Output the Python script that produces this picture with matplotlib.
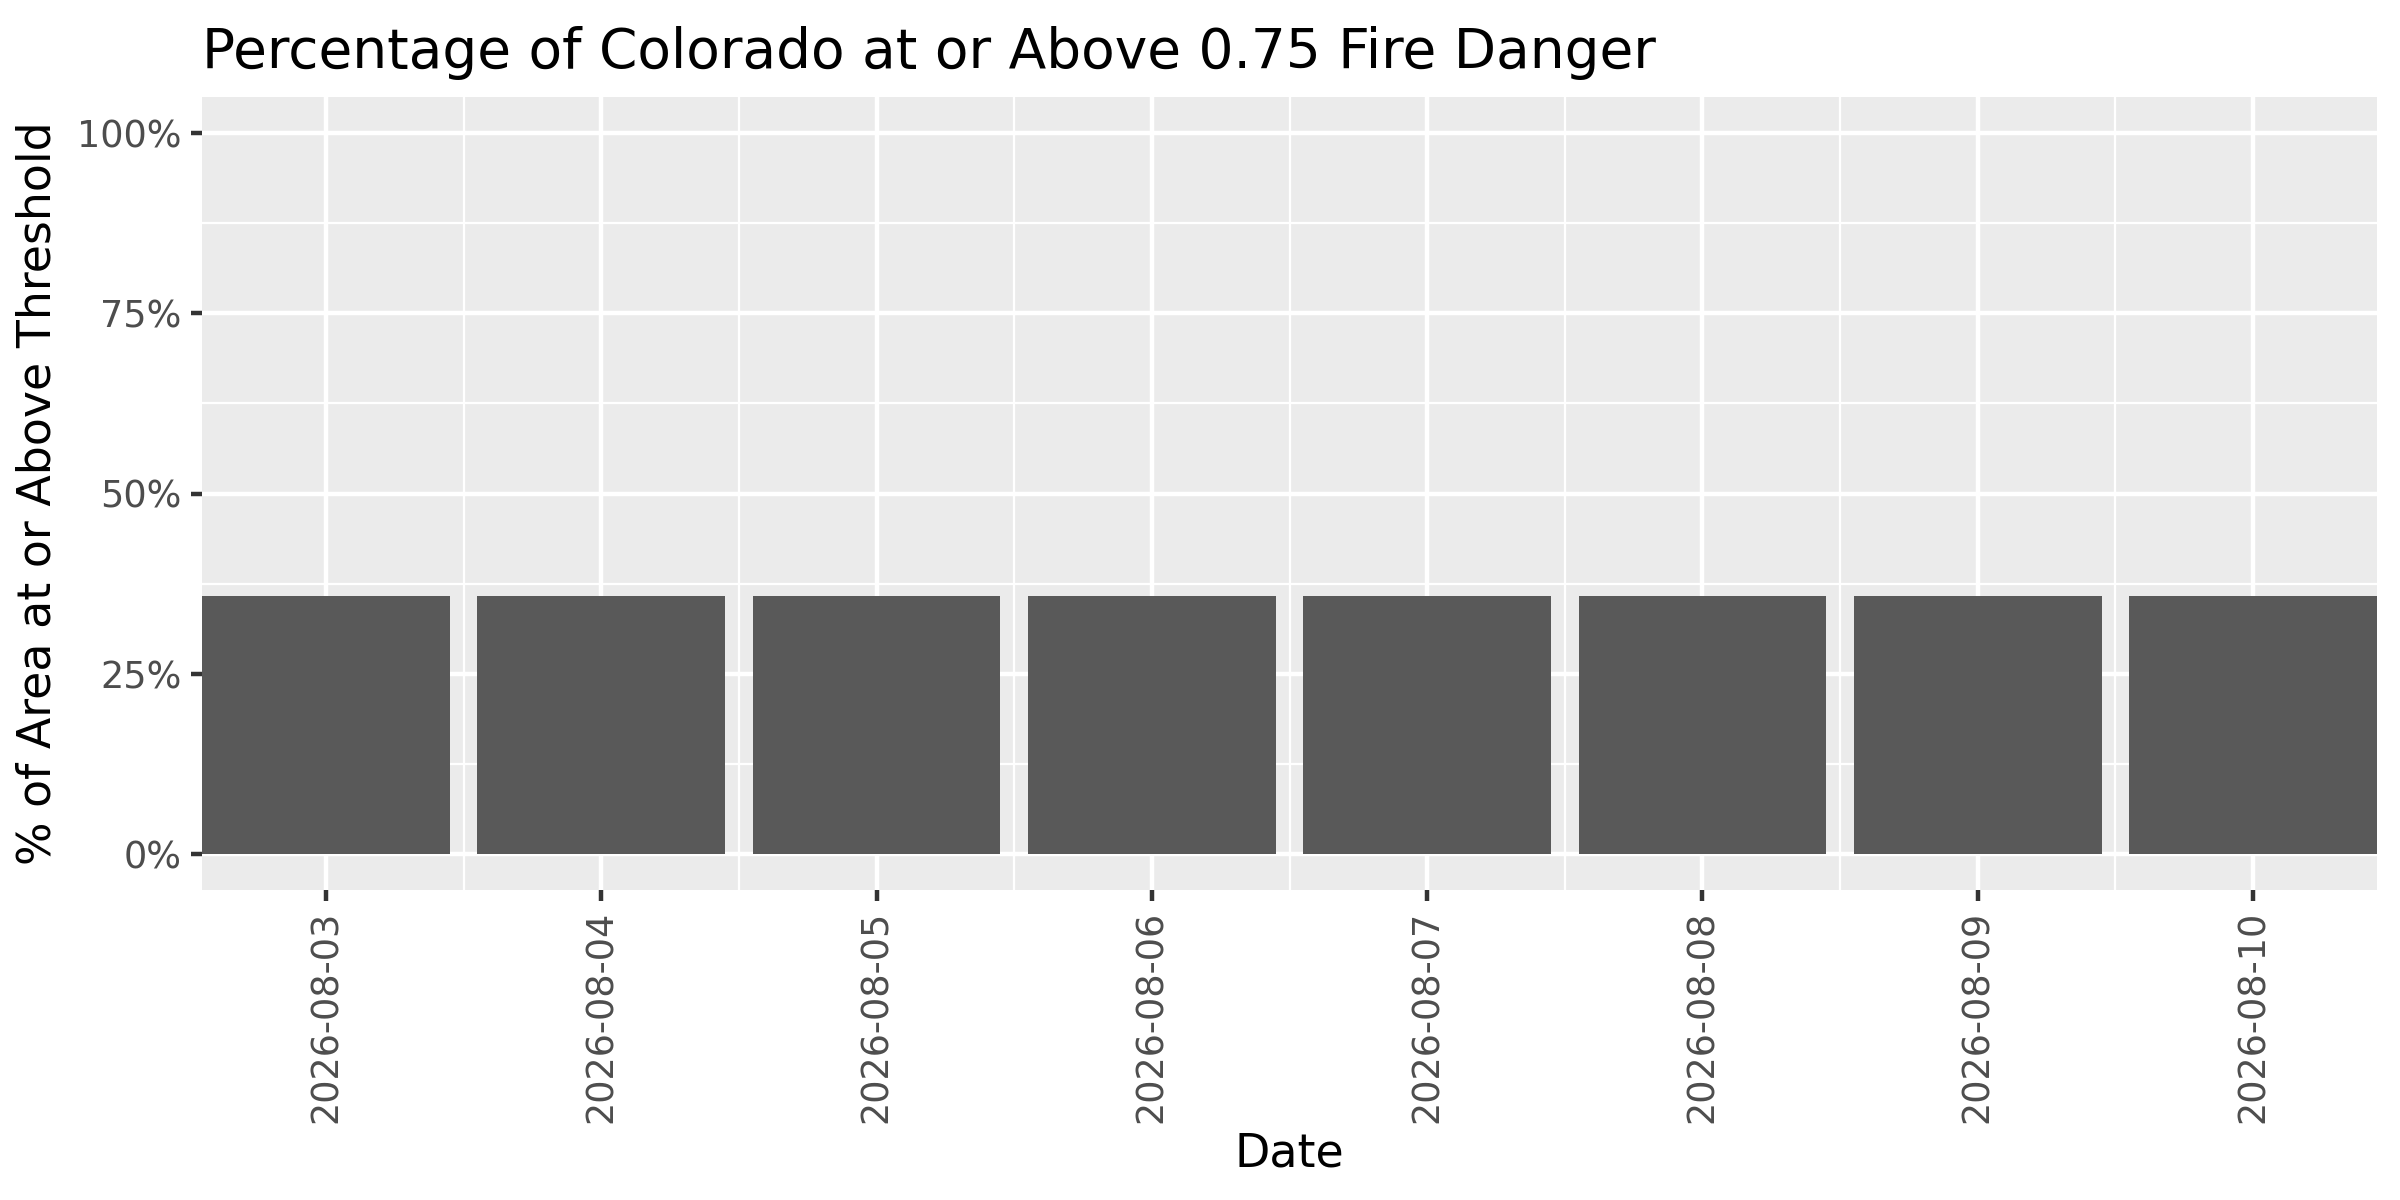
import matplotlib
matplotlib.use("Agg")
from matplotlib import pyplot as plt
from matplotlib.ticker import FixedLocator, PercentFormatter
import numpy as np

dates = ["2026-08-03", "2026-08-04", "2026-08-05", "2026-08-06",
         "2026-08-07", "2026-08-08", "2026-08-09", "2026-08-10"]
pct_area = [0.358, 0.358, 0.358, 0.358, 0.358, 0.358, 0.358, 0.358]
y_breaks = [0, 0.25, 0.5, 0.75, 1.0]

plt.rcParams["font.family"] = ["DejaVu Sans"]

fig = plt.figure(figsize=(8, 4), dpi=300)
ax = fig.add_axes([0.0842, 0.2583, 0.9904 - 0.0842, 0.9192 - 0.2583])

x = np.arange(1, len(dates) + 1)
ax.set_facecolor("#EBEBEB")
ax.bar(x, pct_area, width=0.9, color="#595959", zorder=3)

ax.set_xlim(0.55, len(dates) + 0.45)
ax.set_ylim(-0.05, 1.05)

ax.set_xticks(x)
ax.set_xticklabels(dates, rotation=90)
ax.xaxis.set_minor_locator(FixedLocator(np.arange(1.5, len(dates), 1.0)))
ax.set_yticks(y_breaks)
ax.yaxis.set_major_formatter(PercentFormatter(1.0, decimals=0))
ax.yaxis.set_minor_locator(FixedLocator([0.125, 0.375, 0.625, 0.875]))

ax.grid(which="major", color="white", linewidth=1.07, zorder=0)
ax.grid(which="minor", color="white", linewidth=0.53, zorder=0)
ax.set_axisbelow(True)

for s in ax.spines.values():
    s.set_visible(False)

ax.tick_params(which="major", length=2.75, width=1.07, color="#333333",
               labelsize=8.8, labelcolor="#4D4D4D", pad=2.2)
ax.tick_params(which="minor", length=0)

ax.set_xlabel("Date", fontsize=11, color="black", labelpad=2)
ax.set_ylabel("% of Area at or Above Threshold", fontsize=11, color="black", labelpad=4)
ax.set_title("Percentage of Colorado at or Above 0.75 Fire Danger",
             loc="left", fontsize=13.2, color="black", pad=7)

fig.savefig("out.png", dpi=300, facecolor="white")
